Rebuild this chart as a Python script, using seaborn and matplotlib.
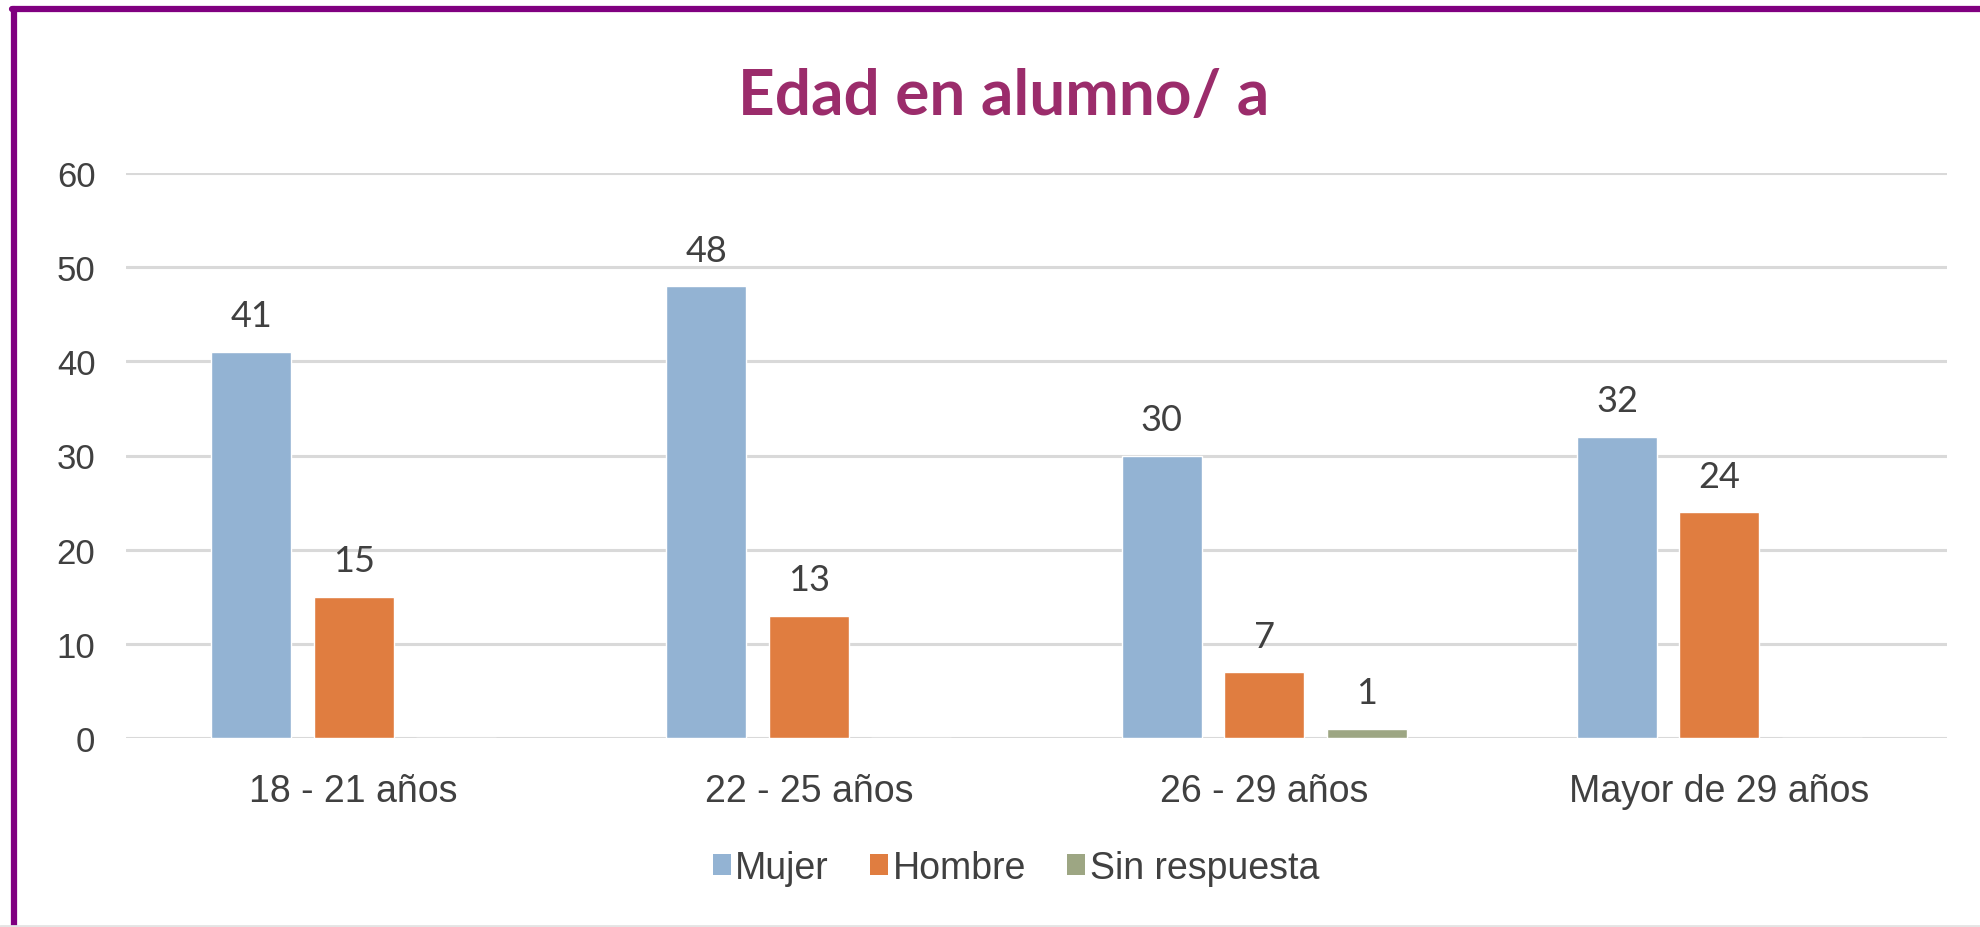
import matplotlib
matplotlib.use("Agg")
import matplotlib.pyplot as plt
from matplotlib.lines import Line2D
from matplotlib.patches import Patch
import seaborn as sns
import pandas as pd

categorias = ["18 - 21 años", "22 - 25 años", "26 - 29 años", "Mayor de 29 años"]
series = ["Mujer", "Hombre", "Sin respuesta"]
mujer = [41, 48, 30, 32]
hombre = [15, 13, 7, 24]
sin_respuesta = [0, 0, 1, 0]
y_ticks = [0, 10, 20, 30, 40, 50, 60]
titulo = "Edad en alumno/ a"

colores = {"Mujer": "#93B3D3", "Hombre": "#E07D40", "Sin respuesta": "#9DA683"}

rows = []
for nombre, vals in zip(series, [mujer, hombre, sin_respuesta]):
    for c, v in zip(categorias, vals):
        rows.append({"Edad": c, "Serie": nombre, "Valor": v})
df = pd.DataFrame(rows)

sns.set_theme(style="white")
plt.rcParams["font.family"] = ["Liberation Sans", "DejaVu Sans"]

fig = plt.figure(figsize=(19.8, 9.28), dpi=100)
fig.patch.set_facecolor("white")
ax = fig.add_axes([126 / 1980, 189 / 928, (1947 - 126) / 1980, (739 - 174) / 928])

sns.barplot(data=df, x="Edad", y="Valor", hue="Serie", order=categorias,
            hue_order=series, palette=colores, width=0.675, gap=0.22,
            saturation=1, legend=False, ax=ax, errorbar=None)

ax.set_ylim(0, 60)
ax.set_xlim(-0.5, 3.5)
ax.set_yticks(y_ticks)
ax.set_yticklabels([str(t) for t in y_ticks])
ax.yaxis.grid(True, color="#D9D9D9", linewidth=2.2)
ax.set_axisbelow(True)
for s in ax.spines.values():
    s.set_visible(False)
ax.tick_params(axis="y", length=0, pad=22, labelsize=25, labelcolor="#404040")
ax.tick_params(axis="x", length=0, pad=25, labelsize=27, labelcolor="#404040")
ax.set_xlabel("")
ax.set_ylabel("")

for cont in ax.containers:
    labels = [("" if v == 0 else f"{int(v)}") for v in cont.datavalues]
    ax.bar_label(cont, labels=labels, padding=14, fontsize=26, color="#404040",
                 family=["Lato", "DejaVu Sans"])

fig.text(1004 / 1980, 1 - 96 / 928, titulo, ha="center", va="center",
         fontsize=46, fontweight="bold", color="#9B2C6B",
         family=["Lato", "DejaVu Sans"])

handles = [Patch(facecolor=colores[s], edgecolor="none", label=s) for s in series]
fig.legend(handles=handles, loc="center", bbox_to_anchor=(1016 / 1980, 1 - 869 / 928),
           ncol=3, frameon=False, fontsize=27, handlelength=0.48, handleheight=0.48,
           handletextpad=0.12, columnspacing=1.1, labelcolor="#404040")

# frame
fig.add_artist(Line2D([12 / 1980, 1], [1 - 10 / 928, 1 - 10 / 928], color="#800080",
                      linewidth=4.5, transform=fig.transFigure))
fig.add_artist(Line2D([14 / 1980, 14 / 1980], [0, 1 - 10 / 928], color="#800080",
                      linewidth=4.5, transform=fig.transFigure))
fig.add_artist(Line2D([0, 1], [1.5 / 928, 1.5 / 928], color="#E4E4E4",
                      linewidth=2, transform=fig.transFigure))

fig.savefig("out.png", dpi=100, facecolor="white")
